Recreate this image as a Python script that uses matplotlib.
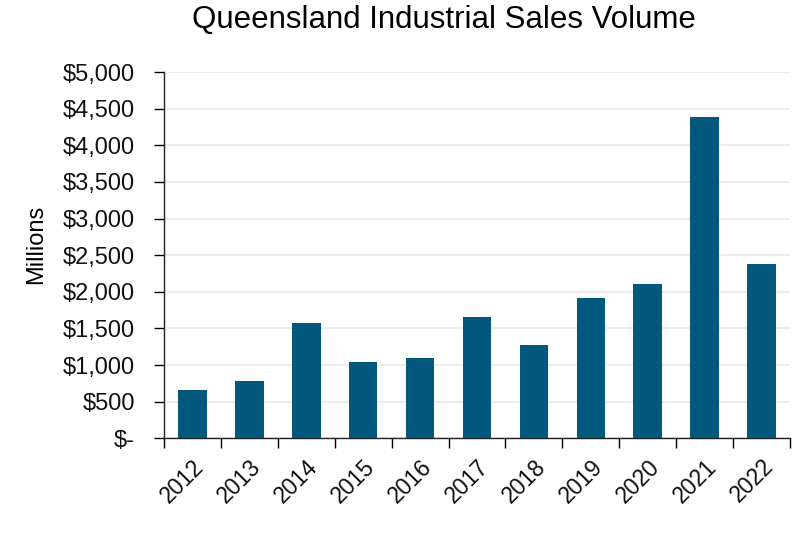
import numpy as np
import matplotlib.pyplot as plt
from matplotlib.ticker import FuncFormatter

plt.rcParams['font.family'] = ['Liberation Sans', 'DejaVu Sans']

# Sales volume by year, $ millions
years = ['2012', '2013', '2014', '2015', '2016', '2017', '2018', '2019', '2020', '2021', '2022']
volume = [660, 780, 1580, 1040, 1100, 1655, 1280, 1920, 2105, 4380, 2375]

bar_color = '#02597d'

fig = plt.figure(figsize=(7.99, 5.33), dpi=100)
ax = fig.add_axes([0.2053, 0.1777, 0.7834, 0.6872])

x = np.arange(len(years))
ax.bar(x, volume, width=0.5, color=bar_color, zorder=3)

ax.set_xlim(-0.5, len(years) - 0.5)
ax.set_ylim(0, 5000)
ax.set_yticks(np.arange(0, 5001, 500))


def dollars(v, pos):
    if v == 0:
        return '$-'
    return '${:,.0f}'.format(v)


ax.yaxis.set_major_formatter(FuncFormatter(dollars))
ax.grid(axis='y', color='#ececec', linewidth=1.6, zorder=0)

# category labels at centres, tick marks between categories
ax.set_xticks(x)
ax.set_xticklabels(years, rotation=45, ha='right', rotation_mode='anchor')
ax.set_xticks(np.arange(-0.5, len(years), 1), minor=True)
ax.tick_params(axis='x', which='major', length=0, pad=12, labelsize=16.5, labelcolor='#111111')
ax.tick_params(axis='x', which='minor', length=7, width=1, direction='out')
ax.tick_params(axis='y', length=7, width=1, labelsize=17, pad=14, labelcolor='#111111')

for s in ['top', 'right']:
    ax.spines[s].set_visible(False)
for s in ['left', 'bottom']:
    ax.spines[s].set_linewidth(1)
    ax.spines[s].set_color('#222222')

ax.set_ylabel('Millions', fontsize=17, color='black')
ax.yaxis.set_label_coords(-0.186, 0.53)
fig.text(0.555, 0.962, 'Queensland Industrial Sales Volume', fontsize=22.5,
         ha='center', va='center')

fig.savefig('out.png', dpi=100)
